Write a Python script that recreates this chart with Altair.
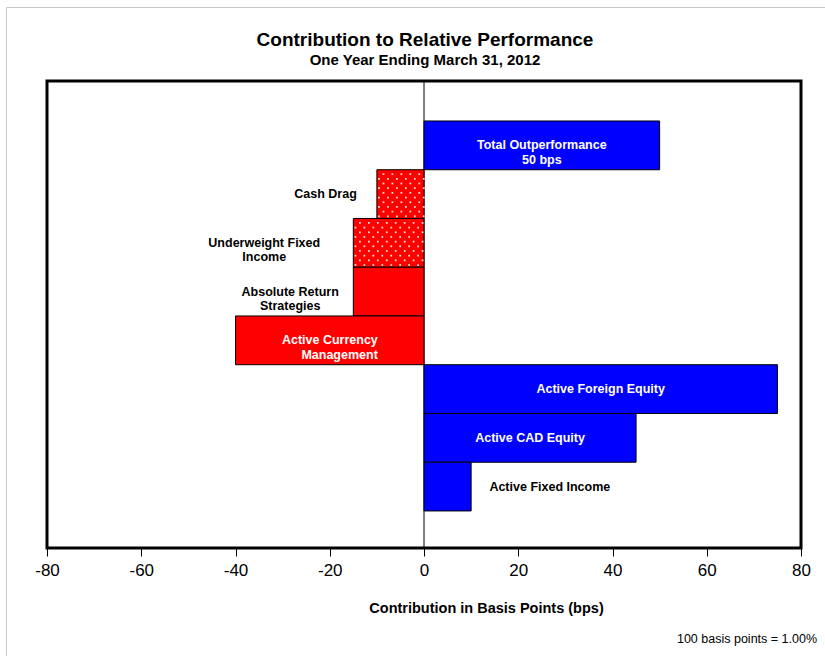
import altair as alt
import pandas as pd
import numpy as np

# ---- data ----
categories = [
    "Total Outperformance",
    "Cash Drag",
    "Underweight Fixed Income",
    "Absolute Return Strategies",
    "Active Currency Management",
    "Active Foreign Equity",
    "Active CAD Equity",
    "Active Fixed Income",
]
values = [50, -10, -15, -15, -40, 75, 45, 10]
labels = [
    "Total Outperformance\n50 bps",
    "Cash Drag",
    "Underweight Fixed\nIncome",
    "Absolute Return\nStrategies",
    "Active Currency\nManagement",
    "Active Foreign Equity",
    "Active CAD Equity",
    "Active Fixed Income",
]
label_x = [25, -20.9, -33.9, -28.4, -9.8, 37.5, 22.5, 26.7]
dotted = ["Cash Drag", "Underweight Fixed Income"]
right_aligned = ["Active Currency Management"]
x_ticks = [-80, -60, -40, -20, 0, 20, 40, 60, 80]
title_text = "Contribution to Relative Performance"
subtitle_text = "One Year Ending March 31, 2012"
footnote_text = "100 basis points = 1.00%"

n = len(categories)
pos = [n - i for i in range(n)]
df = pd.DataFrame({
    "category": categories,
    "value": values,
    "zero": [0] * n,
    "pos": pos,
    "y0": [p - 0.5 for p in pos],
    "y1": [p + 0.5 for p in pos],
    "label": labels,
    "label_x": label_x,
})
df["inside"] = [(min(0, v) <= lx <= max(0, v)) for v, lx in zip(values, label_x)]

# dotted texture (white dots) inside the patterned bars
dot_rows = []
for c, v, p in zip(categories, values, pos):
    if c not in dotted:
        continue
    lo, hi = min(0, v), max(0, v)
    ys = np.arange(p - 0.5 + 0.045, p + 0.5, 0.096)
    xs = np.arange(lo + 0.45, hi, 0.95)
    for r, yy in enumerate(ys):
        for k, xx in enumerate(xs):
            if (r + k) % 2 == 0:
                dot_rows.append({"dx": xx, "dy": yy})
dots_df = pd.DataFrame(dot_rows)

FONT = "Liberation Sans"
xscale = alt.Scale(domain=[-80, 80], nice=False, zero=False)
yscale = alt.Scale(domain=[-0.26, 9.32], nice=False, zero=False)

xaxis = alt.Axis(
    values=x_ticks, grid=False, domain=False, ticks=True, tickColor="black",
    tickSize=8, tickWidth=1, labelFont=FONT, labelFontSize=17, labelColor="black",
    labelPadding=14, labelBaseline="middle", labelFlush=False, labelOverlap=False,
    labelExpr="'' + datum.value",
    title="Contribution in Basis Points (bps)", titleFont=FONT, titleFontSize=14.5,
    titleFontWeight="bold", titleColor="black", titleX=439, titleY=64,
    titleAlign="center", titleBaseline="alphabetic",
)

zero_rule = alt.Chart(pd.DataFrame({"z": [0]})).mark_rule(
    color="black", strokeWidth=1
).encode(x=alt.X("z:Q", scale=xscale, axis=xaxis))

bars = alt.Chart(df).mark_rect(stroke="black", strokeWidth=1).encode(
    x=alt.X("value:Q", scale=xscale, axis=xaxis),
    x2="zero:Q",
    y=alt.Y("y0:Q", scale=yscale, axis=None),
    y2="y1:Q",
    color=alt.condition("datum.value > 0", alt.value("#0000FF"), alt.value("#FF0000")),
)

dots = alt.Chart(dots_df).mark_square(size=3, color="white", opacity=0.9, filled=True).encode(
    x=alt.X("dx:Q", scale=xscale),
    y=alt.Y("dy:Q", scale=yscale),
)

text_color = alt.condition("datum.inside", alt.value("white"), alt.value("black"))
text_common = dict(font=FONT, fontSize=12.5, fontWeight="bold", lineBreak="\n",
                   lineHeight=14.5, baseline="middle")

labels_c = alt.Chart(df).transform_filter(
    alt.FieldOneOfPredicate(field="category", oneOf=[c for c in categories if c not in right_aligned])
).mark_text(align="center", **text_common).encode(
    x=alt.X("label_x:Q", scale=xscale),
    y=alt.Y("pos:Q", scale=yscale),
    text="label:N",
    color=text_color,
)
labels_r = alt.Chart(df).transform_filter(
    alt.FieldOneOfPredicate(field="category", oneOf=right_aligned)
).mark_text(align="right", **text_common).encode(
    x=alt.X("label_x:Q", scale=xscale),
    y=alt.Y("pos:Q", scale=yscale),
    text="label:N",
    color=text_color,
)

title = alt.Chart(pd.DataFrame({"t": [title_text]})).mark_text(
    font=FONT, fontSize=19, fontWeight="bold", align="center", baseline="alphabetic", color="black"
).encode(x=alt.value(378), y=alt.value(-35), text="t:N")

subtitle = alt.Chart(pd.DataFrame({"t": [subtitle_text]})).mark_text(
    font=FONT, fontSize=15, fontWeight="bold", align="center", baseline="alphabetic", color="black"
).encode(x=alt.value(378), y=alt.value(-16), text="t:N")

footnote = alt.Chart(pd.DataFrame({"t": [footnote_text]})).mark_text(
    font=FONT, fontSize=12.5, align="right", baseline="middle", color="black"
).encode(x=alt.value(770), y=alt.value(558), text="t:N")

frame_left = alt.Chart(pd.DataFrame({"a": [0]})).mark_rule(color="#c8c8c8", strokeWidth=1).encode(
    x=alt.value(-40.5), y=alt.value(-73.5), y2=alt.value(575)
)
frame_top = alt.Chart(pd.DataFrame({"a": [0]})).mark_rule(color="#c8c8c8", strokeWidth=1).encode(
    x=alt.value(-40.5), x2=alt.value(778), y=alt.value(-73.5)
)

chart = alt.layer(
    frame_left, frame_top, zero_rule, bars, dots, labels_c, labels_r, title, subtitle, footnote
).properties(
    width=754,
    height=467,
    padding={"left": 47, "top": 81, "right": 24, "bottom": 108},
    autosize=alt.AutoSizeParams(type="none"),
).configure(
    background="white",
    view=alt.ViewConfig(stroke="black", strokeWidth=3),
)

chart.save("out.html", embed_options={"renderer": "svg", "actions": False})
